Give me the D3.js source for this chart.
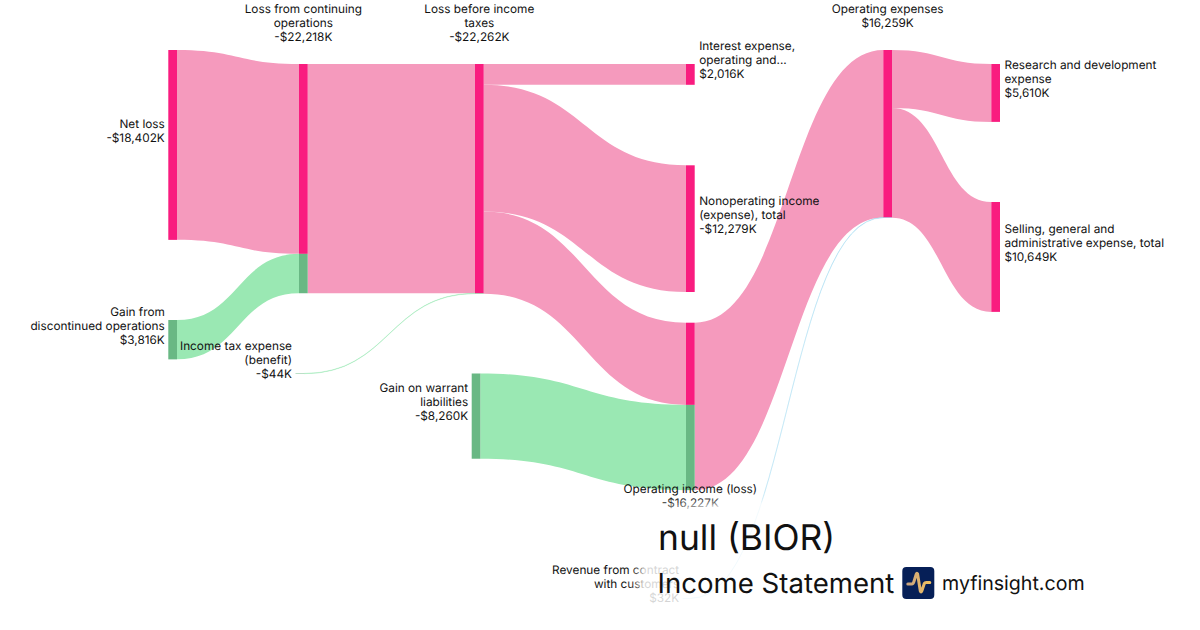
<!DOCTYPE html>
<html>
<head>
<meta charset="utf-8">
<script src="https://cdn.jsdelivr.net/npm/d3@7"></script>
<style>
  html, body { margin: 0; padding: 0; background: #fff; }
  svg { display: block; font-family: Inter, sans-serif; text-rendering: geometricPrecision; }
</style>
</head>
<body>
<div id="chart"></div>
<script>
// values in $K
const nodeIds = ['netLoss', 'gainDisc', 'lossCont', 'incomeTax', 'lossBefore', 'gainWarrant',
  'interest', 'nonop', 'opIncome', 'revenue', 'opex', 'rnd', 'sga'];
const nodeLabels = [
  ['Net loss'],
  ['Gain from', 'discontinued operations'],
  ['Loss from continuing', 'operations'],
  ['Income tax expense', '(benefit)'],
  ['Loss before income', 'taxes'],
  ['Gain on warrant', 'liabilities'],
  ['Interest expense,', 'operating and...'],
  ['Nonoperating income', '(expense), total'],
  ['Operating income (loss)'],
  ['Revenue from contract', 'with customers'],
  ['Operating expenses'],
  ['Research and development', 'expense'],
  ['Selling, general and', 'administrative expense, total']
];
const nodeValues = [-18402, 3816, -22218, -44, -22262, -8260, 2016, -12279, -16227, 32, 16259, 5610, 10649];

const linkSources = ['netLoss', 'gainDisc', 'lossCont', 'incomeTax', 'lossBefore', 'lossBefore', 'lossBefore', 'gainWarrant', 'opIncome', 'revenue', 'opex', 'opex'];
const linkTargets = ['lossCont', 'lossCont', 'lossBefore', 'lossBefore', 'interest', 'nonop', 'opIncome', 'opIncome', 'opex', 'opex', 'rnd', 'sga'];
const linkValues = [18402, 3816, 22218, 44, 2016, 12279, 7967, 8260, 16227, 32, 5610, 10649];
const linkKinds = ['loss', 'gain', 'loss', 'gain', 'loss', 'loss', 'loss', 'gain', 'loss', 'revenue', 'loss', 'loss'];

// layout, there is no d3-sankey in the core bundle so nodes are placed by hand
const layout = {
  netLoss: { x: 168.3, top: 50, side: 'left' },
  gainDisc: { x: 168.3, top: 320, side: 'left' },
  lossCont: { x: 299, top: 64, side: 'top' },
  incomeTax: { x: 295.5, top: 373.3, side: 'left' },
  lossBefore: { x: 475, top: 64, side: 'top' },
  gainWarrant: { x: 471.7, top: 373.5, side: 'left' },
  interest: { x: 686, top: 64, side: 'right' },
  nonop: { x: 686, top: 165.3, side: 'right' },
  opIncome: { x: 686, top: 322.7, side: 'bottom' },
  revenue: { x: 682.7, top: 598, side: 'left' },
  opex: { x: 883.3, top: 50, side: 'top' },
  rnd: { x: 991.3, top: 64, side: 'right' },
  sga: { x: 991.3, top: 202, side: 'right' }
};

const width = 1200, height = 630, nodeWidth = 8.7, lineHeight = 14;

const size = d3.scaleLinear().domain([0, 22262]).range([0, 229.7]);
const linkColor = d3.scaleOrdinal().domain(['loss', 'gain', 'revenue']).range(['#f59abd', '#9ae8b3', '#8fd3ee']);
const nodeColor = d3.scaleOrdinal().domain(['loss', 'gain', 'revenue']).range(['#f91c7f', '#69b884', '#5fb8e0']);
const fmt = d3.format(',');
const money = v => (v < 0 ? '-$' : '$') + fmt(Math.abs(v)) + 'K';

const svg = d3.select('#chart').append('svg')
  .attr('width', width)
  .attr('height', height)
  .attr('viewBox', `0 0 ${width} ${height}`);

const defs = svg.append('defs');

// white glow around the title text, it washes out whatever is under it
const glow = defs.append('filter')
  .attr('id', 'glow')
  .attr('filterUnits', 'userSpaceOnUse')
  .attr('x', 540).attr('y', 440).attr('width', 660).attr('height', 190);
glow.append('feGaussianBlur').attr('stdDeviation', 14);
glow.append('feComponentTransfer')
  .append('feFuncA').attr('type', 'linear').attr('slope', 40);
glow.append('feComponentTransfer')
  .append('feFuncA').attr('type', 'linear').attr('slope', 0.82);

const logoGrad = defs.append('linearGradient').attr('id', 'pulse');
logoGrad.append('stop').attr('offset', '0%').attr('stop-color', '#c9a37f');
logoGrad.append('stop').attr('offset', '100%').attr('stop-color', '#f3c25f');

// build nodes and stack the links on them
const nodes = new Map(nodeIds.map((id, i) => [id, {
  id, lines: nodeLabels[i], value: nodeValues[i], ...layout[id],
  h: size(Math.abs(nodeValues[i])), inY: 0, outY: 0
}]));

const links = linkValues.map((value, i) => {
  const source = nodes.get(linkSources[i]);
  const target = nodes.get(linkTargets[i]);
  const w = size(value);
  const link = { source, target, value, kind: linkKinds[i], w, y0: source.top + source.outY, y1: target.top + target.inY };
  source.outY += w;
  target.inY += w;
  return link;
});

// bands keep their vertical thickness, so an area and not a thick stroke
const band = d3.area()
  .x(p => p.x)
  .y0(p => p.y)
  .y1(p => p.y + p.w)
  .curve(d3.curveBumpX);

svg.append('g')
  .selectAll('path')
  .data(links)
  .join('path')
  .attr('d', d => band([
    { x: d.source.x + nodeWidth, y: d.y0, w: d.w },
    { x: d.target.x, y: d.y1, w: d.w }
  ]))
  .attr('fill', d => linkColor(d.kind))
  // hairline links would vanish otherwise
  .attr('stroke', d => d.w < 1 ? linkColor(d.kind) : 'none')
  .attr('stroke-width', 0.3);

// a node is painted one piece per incoming link, roots per outgoing link
const pieces = [];
links.forEach(l => pieces.push({ x: l.target.x, y: l.y1, h: l.w, kind: l.kind }));
links.filter(l => !links.some(o => o.target === l.source))
  .forEach(l => pieces.push({ x: l.source.x, y: l.y0, h: l.w, kind: l.kind }));

svg.append('g')
  .selectAll('rect')
  .data(pieces)
  .join('rect')
  .attr('x', d => d.x)
  .attr('y', d => d.y)
  .attr('width', nodeWidth)
  .attr('height', d => d.h)
  .attr('fill', d => nodeColor(d.kind));

// labels
function labelPos(n) {
  const count = n.lines.length + 1;
  const mid = n.top + n.h / 2;
  if (n.side === 'top') return { x: n.x + nodeWidth / 2, anchor: 'middle', first: n.top - 23 - (count - 1) * lineHeight };
  if (n.side === 'bottom') return { x: n.x + nodeWidth / 2, anchor: 'middle', first: n.top + n.h + 3 };
  const first = mid - 14 - (count - 1) * lineHeight / 2 + 4;
  if (n.side === 'left') return { x: n.x - 3.5, anchor: 'end', first };
  return { x: n.x + nodeWidth + 4.5, anchor: 'start', first };
}

svg.append('g')
  .attr('font-size', 11.8)
  .attr('fill', '#111')
  .selectAll('text')
  .data([...nodes.values()])
  .join('text')
  .each(function (d) {
    const p = labelPos(d);
    const t = d3.select(this).attr('text-anchor', p.anchor);
    [...d.lines, money(d.value)].forEach((line, i) => {
      t.append('tspan')
        .attr('x', p.x)
        .attr('y', p.first + i * lineHeight)
        .text(line);
    });
  });

// title block, drawn twice: blurred white first, then the ink
const titleLines = [
  { text: 'null (BIOR)', x: 658, y: 550, size: 35.4 },
  { text: 'Income Statement', x: 657.5, y: 592.5, size: 27.6 },
  { text: 'myfinsight.com', x: 942, y: 590, size: 19.6 }
];

function drawTitle(g) {
  g.selectAll('text')
    .data(titleLines)
    .join('text')
    .attr('x', d => d.x)
    .attr('y', d => d.y)
    .attr('font-size', d => d.size)
    .text(d => d.text);
}

svg.append('g').attr('fill', '#fff').attr('filter', 'url(#glow)').call(drawTitle);
svg.append('g').attr('fill', '#111').call(drawTitle);

const logo = svg.append('g').attr('transform', 'translate(902.3,567)');
logo.append('rect')
  .attr('width', 32)
  .attr('height', 32)
  .attr('rx', 4)
  .attr('fill', '#061f57');
logo.append('path')
  .attr('d', 'M5.5 17 H9.5 Q11 17 11.8 14 L14 7 Q14.6 5.5 15.3 7 L18 24 Q18.7 26 19.5 24 L22 16.5 Q22.5 15.5 24 15.5 H27.5')
  .attr('fill', 'none')
  .attr('stroke', 'url(#pulse)')
  .attr('stroke-width', 3)
  .attr('stroke-linecap', 'round')
  .attr('stroke-linejoin', 'round');
</script>
</body>
</html>
